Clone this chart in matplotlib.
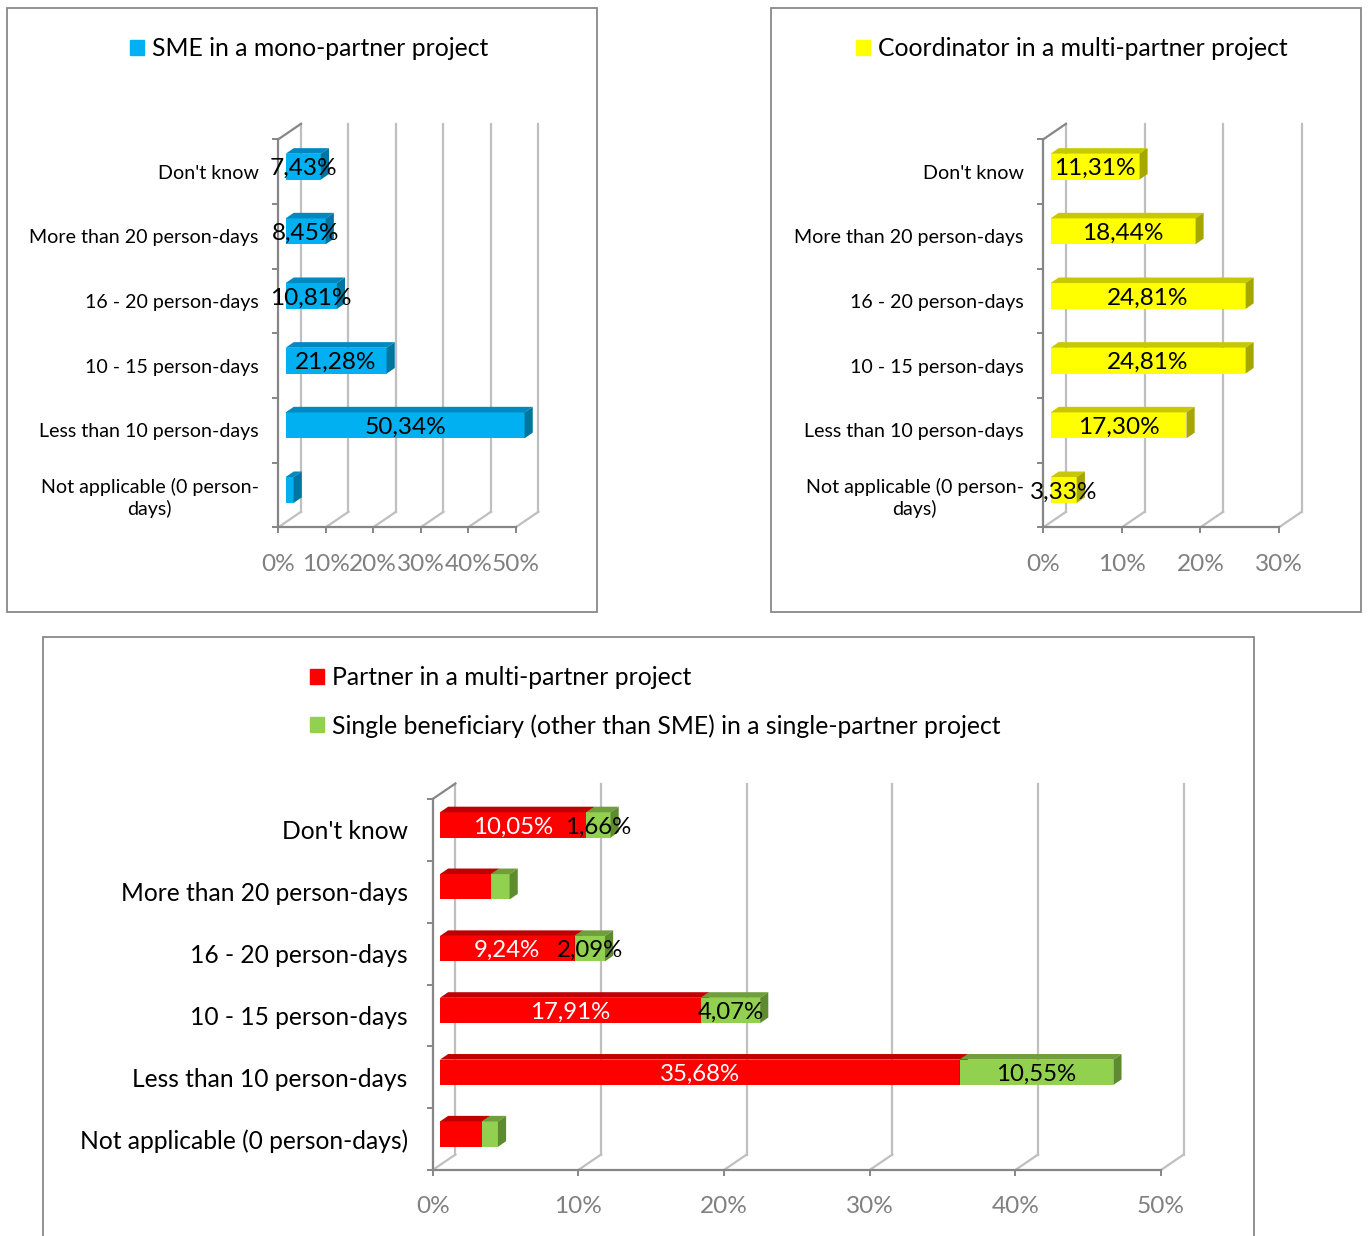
import matplotlib.pyplot as plt
from matplotlib.patches import Patch, Polygon, Rectangle

plt.rcParams['font.family'] = ['Lato', 'DejaVu Sans']

W, H = 1368, 1236

# Datos (porcentajes)
categories = ["Don't know", "More than 20 person-days", "16 - 20 person-days",
              "10 - 15 person-days", "Less than 10 person-days",
              "Not applicable (0 person-\ndays)"]
categories_bottom = ["Don't know", "More than 20 person-days", "16 - 20 person-days",
                     "10 - 15 person-days", "Less than 10 person-days",
                     "Not applicable (0 person-days)"]

sme_values = [7.43, 8.45, 10.81, 21.28, 50.34, 1.69]
sme_labels = ["7,43%", "8,45%", "10,81%", "21,28%", "50,34%", None]

coord_values = [11.31, 18.44, 24.81, 24.81, 17.30, 3.33]
coord_labels = ["11,31%", "18,44%", "24,81%", "24,81%", "17,30%", "3,33%"]

partner_values = [10.05, 3.50, 9.24, 17.91, 35.68, 2.88]
partner_labels = ["10,05%", None, "9,24%", "17,91%", "35,68%", None]

single_values = [1.66, 1.28, 2.09, 4.07, 10.55, 1.10]
single_labels = ["1,66%", None, "2,09%", "4,07%", "10,55%", None]

GRID = '#BFBFBF'
AXIS = '#868686'
DEPTH = (22.7, 15.5)   # profundidad 3D en px (derecha, arriba)
BAR_DEPTH = 0.36

fig = plt.figure(figsize=(W / 100, H / 100), dpi=100)


def px_axes(x0, x1, y0, y1):
    return fig.add_axes([x0 / W, 1 - y1 / H, (x1 - x0) / W, (y1 - y0) / H])


def setup_panel(ax, xmax, cats, cat_size, cat_pad, tick_pad):
    n = len(cats)
    ax.set_xlim(0, xmax)
    ax.set_ylim(n - 0.5, -0.5)
    pos = ax.get_position()
    dx = DEPTH[0] / (pos.width * W / xmax)
    dy = -DEPTH[1] / (pos.height * H / n)

    ticks = list(range(0, xmax + 1, 10))
    # pared del fondo y piso
    for t in ticks:
        ax.plot([t, t + dx], [n - 0.5, n - 0.5 + dy], color=GRID, lw=1.6,
                clip_on=False, zorder=1)
        ax.plot([t + dx, t + dx], [n - 0.5 + dy, -0.5 + dy], color=GRID, lw=1.6,
                clip_on=False, zorder=1)
    ax.plot([0, dx], [-0.5, -0.5 + dy], color=AXIS, lw=1.6, clip_on=False, zorder=1)

    for s in ['top', 'right']:
        ax.spines[s].set_visible(False)
    for s in ['left', 'bottom']:
        ax.spines[s].set_color(AXIS)
        ax.spines[s].set_linewidth(1.6)
    ax.set_facecolor('none')

    ax.set_xticks(ticks)
    ax.set_xticklabels([f"{t}%" for t in ticks])
    ax.tick_params(axis='x', direction='out', length=4.5, width=1.4, color=AXIS,
                   labelcolor='#808080', labelsize=17.6, pad=tick_pad)

    ax.set_yticks(range(n))
    ax.set_yticklabels(cats)
    ax.set_yticks([i - 0.5 for i in range(n + 1)], minor=True)
    ax.tick_params(axis='y', which='major', length=0, labelsize=cat_size, pad=cat_pad)
    ax.tick_params(axis='y', which='minor', direction='out', length=4.5, width=1.4,
                   color=AXIS)
    for lbl in ax.get_yticklabels():
        lbl.set_multialignment('center')
    return dx, dy


def draw_bars(ax, values, lefts, labels, dx, dy, front, top, side, h,
              label_color, label_size):
    bdx, bdy = BAR_DEPTH * dx, BAR_DEPTH * dy
    ox, oy = (dx - bdx) / 2, (dy - bdy) / 2
    ys = [i + oy for i in range(len(values))]
    x0s = [l + ox for l in lefts]
    bars = ax.barh(ys, values, left=x0s, height=h, color=front, zorder=3)
    for b in bars:
        b.set_clip_on(False)
    for y, x0, v, lab in zip(ys, x0s, values, labels):
        x1 = x0 + v
        yt, yb = y - h / 2, y + h / 2
        ax.add_patch(Polygon([(x0, yt), (x1, yt), (x1 + bdx, yt + bdy), (x0 + bdx, yt + bdy)],
                             closed=True, facecolor=top, edgecolor='none', zorder=3,
                             clip_on=False))
        ax.add_patch(Polygon([(x1, yt), (x1 + bdx, yt + bdy), (x1 + bdx, yb + bdy), (x1, yb)],
                             closed=True, facecolor=side, edgecolor='none', zorder=3,
                             clip_on=False))
        if lab:
            ax.text(x0 + v / 2, y, lab, ha='center', va='center_baseline',
                    fontsize=label_size, color=label_color, zorder=5, clip_on=False)


# marcos de los paneles
for (x0, y0, x1, y1) in [(7, 8, 597, 612), (771, 8, 1361, 612), (43, 637, 1254, 1245)]:
    fig.add_artist(Rectangle((x0 / W, 1 - y1 / H), (x1 - x0) / W, (y1 - y0) / H,
                             transform=fig.transFigure, fill=False,
                             edgecolor='#898989', lw=1.3))

# Panel 1: SME
ax1 = px_axes(278.3, 515.7, 139.3, 527.3)
dx, dy = setup_panel(ax1, 50, categories, 14.1, 14, 14.5)
draw_bars(ax1, sme_values, [0] * 6, sme_labels, dx, dy,
          '#00B0F0', '#0088C0', '#00759F', 0.40, 'black', 17.6)

# Panel 2: Coordinator
ax2 = px_axes(1043.3, 1279.0, 139.3, 527.3)
dx, dy = setup_panel(ax2, 30, categories, 14.1, 14, 14.5)
draw_bars(ax2, coord_values, [0] * 6, coord_labels, dx, dy,
          '#FFFF00', '#C8C800', '#A6A600', 0.40, 'black', 17.6)

# Panel 3: Partner + Single beneficiary
ax3 = px_axes(432.7, 1161.0, 799.0, 1170.0)
dx, dy = setup_panel(ax3, 50, categories_bottom, 17.75, 18, 14)
draw_bars(ax3, partner_values, [0] * 6, partner_labels, dx, dy,
          '#FF0000', '#C00000', '#A00000', 0.41, 'white', 17.3)
draw_bars(ax3, single_values, partner_values, single_labels, dx, dy,
          '#92D050', '#6F9E3A', '#5E8A30', 0.41, 'black', 17.3)

# Leyendas
legend_kw = dict(loc='center left', frameon=False, fontsize=17.8, handlelength=0.55,
                 handleheight=0.55, handletextpad=0.35, borderpad=0, borderaxespad=0)
fig.legend(handles=[Patch(color='#00B0F0', label='SME in a mono-partner project')],
           bbox_to_anchor=(130 / W, 1 - 49 / H), **legend_kw)
fig.legend(handles=[Patch(color='#FFFF00', label='Coordinator in a multi-partner project')],
           bbox_to_anchor=(856 / W, 1 - 49 / H), **legend_kw)
fig.legend(handles=[Patch(color='#FF0000', label='Partner in a multi-partner project'),
                    Patch(color='#92D050',
                          label='Single beneficiary (other than SME) in a single-partner project')],
           bbox_to_anchor=(310 / W, 1 - 702 / H), labelspacing=1.0, **legend_kw)

fig.savefig('out.png', dpi=100)
